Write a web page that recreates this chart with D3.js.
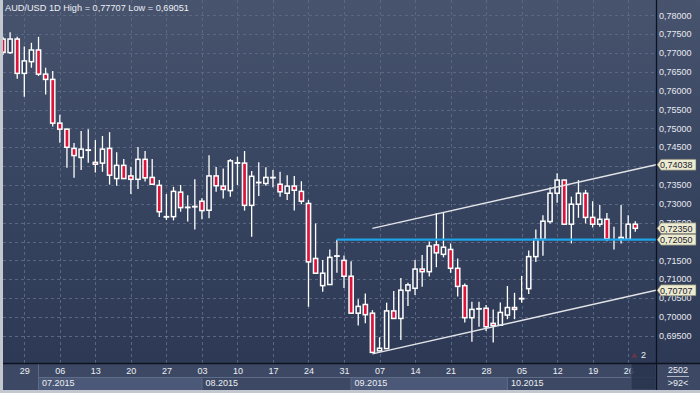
<!DOCTYPE html>
<html>
<head>
<meta charset="utf-8">
<script src="https://cdn.jsdelivr.net/npm/d3@7"></script>
<style>
  body { margin: 0; background: #2c3853; }
  svg { display: block; font-family: 'Liberation Sans', Arial, sans-serif; }
</style>
</head>
<body>
<script>
// AUD/USD daily candles, 24.06.2015 .. 27.10.2015
const openPrices = [
  0.7737, 0.7701, 0.7737, 0.7646, 0.7677, 0.7708, 0.7644, 0.7630, 0.7514, 0.7498,
  0.7447, 0.7423, 0.7442, 0.7410, 0.7408, 0.7447, 0.7367, 0.7402, 0.7374, 0.7365,
  0.7418, 0.7370, 0.7349, 0.7265, 0.7266, 0.7331, 0.7290, 0.7293, 0.7307, 0.7283,
  0.7374, 0.7347, 0.7335, 0.7408, 0.7408, 0.7296, 0.7356, 0.7354, 0.7369, 0.7352,
  0.7328, 0.7347, 0.7333, 0.7301, 0.7155, 0.7083, 0.7086, 0.7161, 0.7150, 0.7108,
  0.7010, 0.7033, 0.7010, 0.6910, 0.6916, 0.7016, 0.6996, 0.7070, 0.7076, 0.7127,
  0.7120, 0.7191, 0.7166, 0.7179, 0.7129, 0.7083, 0.6998, 0.7021, 0.7023, 0.6983,
  0.6978, 0.7005, 0.7025, 0.7048, 0.7075, 0.7160, 0.7206, 0.7253, 0.7328, 0.7363,
  0.7246, 0.7299, 0.7328, 0.7264, 0.7246, 0.7259, 0.7207, 0.7206, 0.7206, 0.7246
]
const highPrices = [
  0.7743, 0.7755, 0.7743, 0.7717, 0.7727, 0.7743, 0.7661, 0.7652, 0.7536, 0.7500,
  0.7461, 0.7493, 0.7498, 0.7469, 0.7480, 0.7490, 0.7437, 0.7419, 0.7398, 0.7451,
  0.7440, 0.7419, 0.7363, 0.7326, 0.7345, 0.7350, 0.7323, 0.7365, 0.7315, 0.7429,
  0.7398, 0.7394, 0.7419, 0.7425, 0.7440, 0.7387, 0.7410, 0.7397, 0.7390, 0.7385,
  0.7376, 0.7374, 0.7360, 0.7310, 0.7248, 0.7151, 0.7179, 0.7205, 0.7163, 0.7148,
  0.7047, 0.7062, 0.7018, 0.6946, 0.7038, 0.7069, 0.7103, 0.7091, 0.7151, 0.7164,
  0.7200, 0.7275, 0.7277, 0.7195, 0.7155, 0.7089, 0.7040, 0.7040, 0.7032, 0.7020,
  0.7038, 0.7082, 0.7064, 0.7109, 0.7176, 0.7232, 0.7270, 0.7344, 0.7381, 0.7364,
  0.7319, 0.7363, 0.7337, 0.7307, 0.7297, 0.7276, 0.7239, 0.7297, 0.7270, 0.7254
]
const lowPrices = [
  0.7695, 0.7698, 0.7632, 0.7584, 0.7661, 0.7639, 0.7590, 0.7505, 0.7462, 0.7396,
  0.7369, 0.7390, 0.7409, 0.7383, 0.7385, 0.7351, 0.7348, 0.7366, 0.7326, 0.7339,
  0.7359, 0.7350, 0.7265, 0.7257, 0.7256, 0.7279, 0.7253, 0.7232, 0.7259, 0.7262,
  0.7332, 0.7314, 0.7319, 0.7350, 0.7282, 0.7213, 0.7321, 0.7348, 0.7344, 0.7319,
  0.7310, 0.7282, 0.7299, 0.7027, 0.7115, 0.7067, 0.7085, 0.7117, 0.7077, 0.7009,
  0.6977, 0.6983, 0.69051, 0.6909, 0.6915, 0.6995, 0.6939, 0.7029, 0.7058, 0.7080,
  0.7107, 0.7132, 0.7158, 0.7117, 0.7054, 0.6985, 0.6934, 0.6974, 0.6963, 0.6932,
  0.6976, 0.6994, 0.6994, 0.7038, 0.7061, 0.7146, 0.7162, 0.7248, 0.7303, 0.7245,
  0.7195, 0.7263, 0.7248, 0.7237, 0.7239, 0.7201, 0.7179, 0.7195, 0.7204, 0.7226
]
const closePrices = [
  0.7702, 0.7737, 0.7646, 0.7679, 0.7708, 0.7644, 0.7630, 0.7514, 0.7498, 0.7450,
  0.7428, 0.7445, 0.7443, 0.7405, 0.7445, 0.7376, 0.7402, 0.7367, 0.7365, 0.7418,
  0.7369, 0.7352, 0.7279, 0.7266, 0.7333, 0.7290, 0.7291, 0.7292, 0.7282, 0.7374,
  0.7348, 0.7338, 0.7414, 0.7409, 0.7296, 0.7373, 0.7357, 0.7370, 0.7370, 0.7332,
  0.7347, 0.7336, 0.7307, 0.7146, 0.7116, 0.7116, 0.7158, 0.7162, 0.7108, 0.7010,
  0.7028, 0.7006, 0.6906, 0.6917, 0.7016, 0.6996, 0.7071, 0.7085, 0.7127, 0.7120,
  0.7188, 0.7170, 0.7185, 0.7129, 0.7081, 0.6998, 0.7020, 0.7022, 0.6974, 0.6977,
  0.7012, 0.7025, 0.7020, 0.7049, 0.7160, 0.7206, 0.7254, 0.7328, 0.7363, 0.7246,
  0.7299, 0.7328, 0.7264, 0.7246, 0.7259, 0.7207, 0.7207, 0.7211, 0.7246, 0.7235
]

// x axis: Mondays and months
const weekLabels = ['29', '06', '13', '20', '27', '03', '10', '17', '24', '31', '07', '14', '21', '28', '05', '12', '19', '26']
const weekStarts = [3, 8, 13, 18, 23, 28, 33, 38, 43, 48, 53, 58, 63, 68, 73, 78, 83, 88]
const monthLabels = ['07.2015', '08.2015', '09.2015', '10.2015']
const monthStarts = [5, 28, 49, 71]

// right axis
const priceTicks = d3.range(0.695, 0.7801, 0.005)
const priceTags = [0.74038, 0.72350, 0.72050, 0.70707]

// drawn objects
const supportLevel = { start: 47, price: 0.7205 }
const channelLines = [
  { start: 52, price: 0.7235, endPrice: 0.74038 },
  { start: 52, price: 0.6902, endPrice: 0.70707 }
]

const title = 'AUD/USD 1D High = 0,77707 Low = 0,69051'

const W = 700
const H = 393
const plot = { left: 3, right: 656, top: 0, bottom: 363 }

const x = d3.scaleLinear().domain([0, 89]).range([3.0, 635.3])
const y = d3.scaleLinear().domain([0.695, 0.78]).range([335.8, 15.3])
const fmt = (v) => d3.format('.5f')(v).replace('.', ',')

const svg = d3.select('body').append('svg')
  .attr('width', W)
  .attr('height', H)

const defs = svg.append('defs')
const grad = defs.append('linearGradient')
  .attr('id', 'bg')
  .attr('x1', 0).attr('y1', 0).attr('x2', 0).attr('y2', 1)
grad.append('stop').attr('offset', '0%').attr('stop-color', '#48546e')
grad.append('stop').attr('offset', '45%').attr('stop-color', '#384560')
grad.append('stop').attr('offset', '100%').attr('stop-color', '#2c3853')

defs.append('clipPath').attr('id', 'plotclip')
  .append('rect')
  .attr('x', plot.left).attr('y', plot.top)
  .attr('width', plot.right - plot.left).attr('height', plot.bottom - plot.top)

svg.append('rect')
  .attr('width', W).attr('height', H)
  .attr('fill', 'url(#bg)')

// grid
const grid = svg.append('g').attr('clip-path', 'url(#plotclip)')
grid.selectAll('.hgrid')
  .data(priceTicks)
  .enter().append('line')
  .attr('x1', plot.left).attr('x2', plot.right)
  .attr('y1', (d) => Math.round(y(d)) + 0.5)
  .attr('y2', (d) => Math.round(y(d)) + 0.5)
  .attr('stroke', '#5b6781')
  .attr('stroke-dasharray', '3,3')

grid.selectAll('.vgrid')
  .data(weekStarts)
  .enter().append('line')
  .attr('x1', (d) => Math.round(x(d)) + 0.5)
  .attr('x2', (d) => Math.round(x(d)) + 0.5)
  .attr('y1', plot.top).attr('y2', plot.bottom)
  .attr('stroke', '#5b6781')
  .attr('stroke-dasharray', '3,3')

// x axis band
const band = svg.append('g')
band.append('rect')
  .attr('x', 0).attr('y', plot.bottom)
  .attr('width', W).attr('height', H - plot.bottom)
  .attr('fill', '#3d4964')

monthStarts.forEach((s, i) => {
  const x0 = x(s)
  const x1 = i < monthStarts.length - 1 ? x(monthStarts[i + 1]) : plot.right
  band.append('rect')
    .attr('x', x0).attr('y', 377)
    .attr('width', x1 - x0).attr('height', 13)
    .attr('fill', i % 2 === 0 ? '#4b5877' : '#3d4964')
  band.append('line')
    .attr('x1', x0).attr('x2', x0)
    .attr('y1', i === 0 ? plot.bottom : 377).attr('y2', 390)
    .attr('stroke', '#5f6c88')
  band.append('text')
    .attr('x', x0 + 3.5).attr('y', 386)
    .attr('fill', '#eceff4')
    .style('font-size', '9px')
    .text(monthLabels[i])
})
band.append('line')
  .attr('x1', x(monthStarts[0])).attr('x2', plot.right)
  .attr('y1', 377.5).attr('y2', 377.5)
  .attr('stroke', '#5f6c88')

band.selectAll('.wlabel')
  .data(weekStarts)
  .enter().append('text')
  .attr('x', (d) => x(d) + 0.5)
  .attr('y', 374.3)
  .attr('text-anchor', 'middle')
  .attr('fill', '#eceff4')
  .style('font-size', '9px')
  .text((d, i) => weekLabels[i])

// highlighted last bars in band
band.append('rect')
  .attr('x', 631).attr('y', 363.5)
  .attr('width', 25).attr('height', 26.5)
  .attr('fill', '#28334d').attr('fill-opacity', 0.85)
  .attr('stroke', '#45516b')

// candles
const n = openPrices.length
const candles = d3.range(n).map((i) => ({
  i,
  o: openPrices[i],
  h: highPrices[i],
  l: lowPrices[i],
  c: closePrices[i]
}))

const cg = svg.append('g').attr('clip-path', 'url(#plotclip)')
const bodyW = 4.2

const candle = cg.selectAll('.candle')
  .data(candles)
  .enter().append('g')
  .attr('class', 'candle')

candle.append('line')
  .attr('x1', (d) => x(d.i)).attr('x2', (d) => x(d.i))
  .attr('y1', (d) => y(d.h)).attr('y2', (d) => y(d.l))
  .attr('stroke', '#ffffff')
  .attr('stroke-width', 1.3)

candle.append('rect')
  .attr('x', (d) => x(d.i) - bodyW / 2)
  .attr('y', (d) => y(Math.max(d.o, d.c)))
  .attr('width', bodyW)
  .attr('height', (d) => Math.abs(y(d.o) - y(d.c)))
  .attr('fill', (d) => d.c < d.o ? '#dc143c' : '#313d58')
  .attr('stroke', '#ffffff')
  .attr('stroke-width', 1.5)

// support level and channel
const lg = svg.append('g').attr('clip-path', 'url(#plotclip)')
lg.append('line')
  .attr('x1', x(supportLevel.start)).attr('x2', plot.right)
  .attr('y1', y(supportLevel.price)).attr('y2', y(supportLevel.price))
  .attr('stroke', '#1ea3e8')
  .attr('stroke-width', 2.2)

lg.selectAll('.channel')
  .data(channelLines)
  .enter().append('line')
  .attr('x1', (d) => x(d.start)).attr('y1', (d) => y(d.price))
  .attr('x2', plot.right).attr('y2', (d) => y(d.endPrice))
  .attr('stroke', '#e2e4e8')
  .attr('stroke-width', 1.4)

// frame lines
svg.append('line')
  .attr('x1', 0).attr('x2', W)
  .attr('y1', plot.bottom + 0.5).attr('y2', plot.bottom + 0.5)
  .attr('stroke', '#0c1220').attr('stroke-width', 1.3)
svg.append('line')
  .attr('x1', plot.right + 0.5).attr('x2', plot.right + 0.5)
  .attr('y1', 0).attr('y2', 390)
  .attr('stroke', '#0c1220').attr('stroke-width', 1.3)

// right axis labels (the one fully under a price tag is not drawn)
const visibleTicks = priceTicks.filter((t) => !priceTags.some((p) => Math.abs(y(p) - y(t)) < 3))
svg.selectAll('.ylabel')
  .data(visibleTicks)
  .enter().append('text')
  .attr('x', 659)
  .attr('y', (d) => y(d) + 3.2)
  .attr('fill', '#e6e9f0')
  .style('font-size', '9px')
  .text((d) => fmt(d))

// price tags
const tag = svg.selectAll('.tag')
  .data(priceTags)
  .enter().append('g')
  .attr('transform', (d) => `translate(0,${y(d)})`)
tag.append('path')
  .attr('d', 'M657,0 L661,-5.5 L696,-5.5 L696,5.5 L661,5.5 Z')
  .attr('fill', '#ecebd0')
  .attr('stroke', '#6a6a5a')
  .attr('stroke-width', 0.6)
tag.append('text')
  .attr('x', 660)
  .attr('y', 3.3)
  .attr('fill', '#1c2230')
  .style('font-size', '9px')
  .text((d) => fmt(d))

// marker above the x axis
svg.append('path')
  .attr('d', 'M631.5,357.5 L634.5,352.5 L637.5,357.5 Z')
  .attr('fill', '#6a3448')
svg.append('text')
  .attr('x', 641).attr('y', 357.5)
  .attr('fill', '#eef0f4')
  .style('font-size', '9px')
  .text('2')

// bottom-right counter
svg.append('text')
  .attr('x', 678).attr('y', 373.3)
  .attr('text-anchor', 'middle')
  .attr('fill', '#eceff4')
  .style('font-size', '9px')
  .text('2502')
svg.append('line')
  .attr('x1', 667).attr('x2', 689)
  .attr('y1', 376.5).attr('y2', 376.5)
  .attr('stroke', '#aeb6c6')
svg.append('text')
  .attr('x', 678).attr('y', 386)
  .attr('text-anchor', 'middle')
  .attr('fill', '#eceff4')
  .style('font-size', '9px')
  .text('>92<')

// title
svg.append('text')
  .attr('x', 5).attr('y', 11)
  .attr('fill', '#eceff4')
  .style('font-size', '9.2px')
  .text(title)

// outer frame
svg.append('rect').attr('x', 0).attr('y', 0).attr('width', 3).attr('height', H).attr('fill', '#c3c7cf')
svg.append('rect').attr('x', 0).attr('y', 390).attr('width', W).attr('height', 3).attr('fill', '#c3c7cf')
</script>
</body>
</html>
